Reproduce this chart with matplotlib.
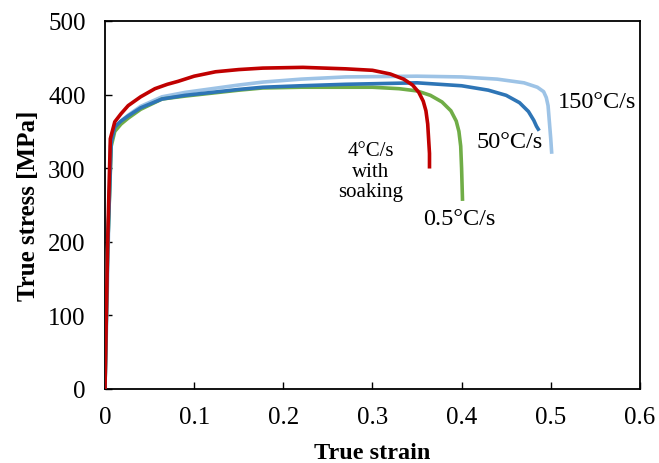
import matplotlib
matplotlib.use("Agg")
import matplotlib.pyplot as plt

plt.rcParams['font.family'] = ['Liberation Serif', 'DejaVu Serif']

# strain / stress
strain_red = [0, 0.003, 0.006, 0.011, 0.018, 0.026, 0.04, 0.056, 0.07, 0.082,
              0.1, 0.124, 0.15, 0.177, 0.222, 0.27, 0.30, 0.32, 0.335, 0.345,
              0.352, 0.357, 0.36, 0.362, 0.363, 0.364, 0.364]
stress_red = [0, 200, 340, 363, 374, 385, 397, 408, 414, 418,
              425, 431, 434, 436, 437, 435, 433, 428, 421, 413,
              403, 391, 378, 360, 340, 320, 302]

strain_green = [0, 0.003, 0.007, 0.011, 0.018, 0.026, 0.04, 0.064, 0.09, 0.12,
                0.15, 0.177, 0.22, 0.27, 0.30, 0.33, 0.35, 0.365, 0.378, 0.388,
                0.394, 0.397, 0.399, 0.4, 0.401]
stress_green = [0, 190, 330, 350, 360, 368, 380, 394, 398, 402,
                406, 409, 410, 410, 410, 408, 405, 399, 390, 378,
                364, 350, 330, 300, 258]

strain_blue = [0, 0.003, 0.007, 0.011, 0.018, 0.026, 0.04, 0.064, 0.09, 0.12,
               0.15, 0.177, 0.22, 0.27, 0.35, 0.40, 0.43, 0.45, 0.465, 0.475,
               0.481, 0.484, 0.486]
stress_blue = [0, 190, 335, 356, 364, 371, 382, 394, 399, 403,
               407, 410, 412, 414, 416, 412, 406, 399, 389, 377,
               365, 357, 353]

strain_lblue = [0, 0.002, 0.006, 0.011, 0.018, 0.026, 0.04, 0.064, 0.09, 0.12,
                0.15, 0.177, 0.22, 0.27, 0.35, 0.40, 0.44, 0.47, 0.485, 0.492,
                0.495, 0.497, 0.498, 0.499, 0.5, 0.501]
stress_lblue = [0, 100, 330, 355, 364, 372, 384, 397, 403, 408,
                413, 417, 421, 424, 425, 424, 421, 416, 410, 404,
                396, 385, 370, 355, 340, 322]

fig = plt.figure(figsize=(6.59, 4.64), dpi=100)
ax = fig.add_axes([0.1593, 0.1595, 0.8117, 0.7931])

ax.plot(strain_lblue, stress_lblue, color='#9DC3E6', lw=2.6, zorder=2)
ax.plot(strain_green, stress_green, color='#70AD47', lw=2.6, zorder=3)
ax.plot(strain_blue, stress_blue, color='#2E75B6', lw=2.6, zorder=4)
ax.plot(strain_red, stress_red, color='#C00000', lw=2.6, zorder=5)

ax.text(0.5516, 390, '150°C/s', fontsize=17.5, ha='center', va='center')
ax.text(0.4537, 336, '50°C/s', fontsize=17.5, ha='center', va='center')
ax.text(0.397, 231, '0.5°C/s', fontsize=17.5, ha='center', va='center')
ax.text(0.298, 296, '4°C/s\nwith\nsoaking', fontsize=15, ha='center',
        va='center', linespacing=1.1)

ax.set_xlim(0, 0.6)
ax.set_ylim(0, 500)
ax.set_xticks([0, 0.1, 0.2, 0.3, 0.4, 0.5, 0.6])
ax.set_xticklabels(['0', '0.1', '0.2', '0.3', '0.4', '0.5', '0.6'])
ax.set_yticks([0, 100, 200, 300, 400, 500])
ax.tick_params(direction='in', length=5, width=1, labelsize=18)
ax.tick_params(axis='x', pad=12)
ax.tick_params(axis='y', pad=14)
for s in ax.spines.values():
    s.set_linewidth(1.3)

ax.set_xlabel('True strain', fontsize=17.5, fontweight='bold', labelpad=10)
ax.set_ylabel('True stress [MPa]', fontsize=18, fontweight='bold', labelpad=6)

fig.savefig('out.png', dpi=100)
